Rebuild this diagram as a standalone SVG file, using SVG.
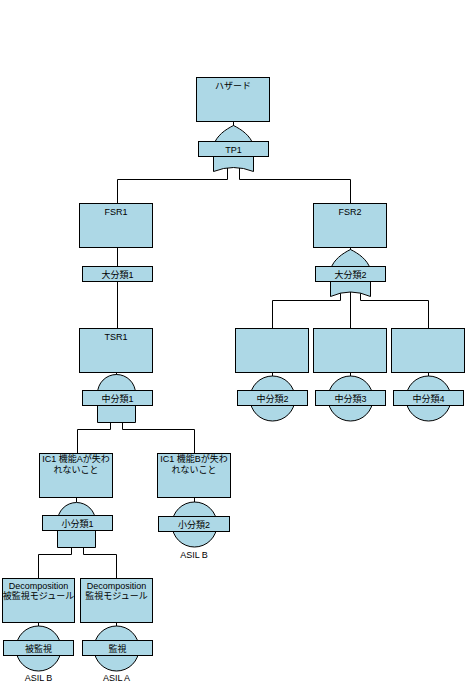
<svg xmlns="http://www.w3.org/2000/svg" width="468" height="683" viewBox="0 0 468 683">
<style>
.b{fill:#ADD8E6;stroke:#000;stroke-width:1}
.c{fill:none;stroke:#000;stroke-width:1}
text{font-family:"Liberation Sans","Noto Sans CJK JP",sans-serif;font-size:9px;fill:#000;text-anchor:middle}
</style>
<rect width="468" height="683" fill="#fff"/>
<g id="connectors">
<path class="c" d="M233.5,121.5V126"/>
<path class="c" d="M227.5,168V179.5H117.5V203.5"/>
<path class="c" d="M239.5,168V179.5H350.5V203.5"/>
<path class="c" d="M117.5,247.5V266.5M117.5,281.5V328.5"/>
<path class="c" d="M350.5,247.5V250"/>
<path class="c" d="M340.5,292V300.5H272.5V328.5"/>
<path class="c" d="M350.5,291V328.5"/>
<path class="c" d="M360.5,292V300.5H428.5V328.5"/>
<path class="c" d="M272.5,372.5V376M350.5,372.5V376M428.5,372.5V376"/>
<path class="c" d="M116.5,372.5V375"/>
<path class="c" d="M110.5,422V429.5H77.5V453.5"/>
<path class="c" d="M122.5,422V429.5H194.5V453.5"/>
<path class="c" d="M76.5,497.5V502"/>
<path class="c" d="M194.5,497.5V502"/>
<path class="c" d="M71.5,547V554.5H38.5V578.5"/>
<path class="c" d="M83.5,547V554.5H116.5V578.5"/>
<path class="c" d="M38.5,622.5V626M116.5,622.5V626"/>
</g>
<g id="hazard">
<rect class="b" x="196.5" y="77.5" width="73" height="44"/>
<text x="233" y="89">ハザード</text>
</g>
<g id="TP1">
<path class="b" d="M233.5,125.5C225.5,129.5 216.5,135.5 213.5,145.5L213.5,171.5Q233.5,163.5 253.5,171.5L253.5,145.5C250.5,135.5 241.5,129.5 233.5,125.5Z"/>
<rect class="b" x="198.5" y="141.5" width="70" height="15"/>
<text x="233.5" y="152.5">TP1</text>
</g>
<g id="FSR1">
<rect class="b" x="79.5" y="203.5" width="73" height="44"/>
<text x="116" y="215">FSR1</text>
</g>
<g id="dai1">
<rect class="b" x="82.5" y="266.5" width="70" height="15"/>
<text x="117.5" y="277.5">大分類1</text>
</g>
<g id="FSR2">
<rect class="b" x="313.5" y="203.5" width="73" height="44"/>
<text x="350" y="215">FSR2</text>
</g>
<g id="dai2">
<path class="b" d="M350.5,249.5C342.5,253.5 333.5,259.5 330.5,269.5L330.5,296.5Q350.5,287.5 370.5,296.5L370.5,269.5C367.5,259.5 358.5,253.5 350.5,249.5Z"/>
<rect class="b" x="315.5" y="266.5" width="70" height="15"/>
<text x="350.5" y="277.5">大分類2</text>
</g>
<g id="TSR1">
<rect class="b" x="79.5" y="328.5" width="73" height="44"/>
<text x="116" y="340">TSR1</text>
</g>
<g id="chu1">
<path class="b" d="M97.5,422.5V393.5A19,19 0 0 1 135.5,393.5V422.5Z"/>
<rect class="b" x="82.5" y="390.5" width="70" height="15"/>
<text x="117.5" y="401.5">中分類1</text>
</g>
<g id="box2">
<rect class="b" x="235.5" y="328.5" width="73" height="44"/>
</g>
<g id="chu2">
<circle class="b" cx="272.5" cy="398.5" r="22.5"/>
<rect class="b" x="237.5" y="390.5" width="70" height="15"/>
<text x="272.5" y="401.5">中分類2</text>
</g>
<g id="box3">
<rect class="b" x="313.5" y="328.5" width="73" height="44"/>
</g>
<g id="chu3">
<circle class="b" cx="350.5" cy="398.5" r="22.5"/>
<rect class="b" x="315.5" y="390.5" width="70" height="15"/>
<text x="350.5" y="401.5">中分類3</text>
</g>
<g id="box4">
<rect class="b" x="391.5" y="328.5" width="73" height="44"/>
</g>
<g id="chu4">
<circle class="b" cx="428.5" cy="398.5" r="22.5"/>
<rect class="b" x="393.5" y="390.5" width="70" height="15"/>
<text x="428.5" y="401.5">中分類4</text>
</g>
<g id="IC1A">
<rect class="b" x="39.5" y="453.5" width="73" height="44"/>
<text x="76" y="461.5">IC1 機能Aが失わ</text>
<text x="76" y="473">れないこと</text>
</g>
<g id="sho1">
<path class="b" d="M57.5,547.5V521.5A19,19 0 0 1 95.5,521.5V547.5Z"/>
<rect class="b" x="42.5" y="515.5" width="70" height="15"/>
<text x="77.5" y="526.5">小分類1</text>
</g>
<g id="IC1B">
<rect class="b" x="157.5" y="453.5" width="73" height="44"/>
<text x="194" y="461.5">IC1 機能Bが失わ</text>
<text x="194" y="473">れないこと</text>
</g>
<g id="sho2">
<circle class="b" cx="194.5" cy="524.5" r="22.5"/>
<rect class="b" x="158.5" y="516.5" width="71" height="15"/>
<text x="194" y="527.5">小分類2</text>
<text x="194" y="557.5">ASIL B</text>
</g>
<g id="DecA">
<rect class="b" x="2.5" y="578.5" width="72" height="44"/>
<text x="38.5" y="588.5">Decomposition</text>
<text x="38.5" y="599">被監視モジュール</text>
</g>
<g id="hikanshi">
<circle class="b" cx="38.5" cy="648.5" r="22.5"/>
<rect class="b" x="3.5" y="640.5" width="70" height="15"/>
<text x="38.5" y="651.5">被監視</text>
<text x="38.5" y="681">ASIL B</text>
</g>
<g id="DecB">
<rect class="b" x="80.5" y="578.5" width="72" height="44"/>
<text x="116.5" y="588.5">Decomposition</text>
<text x="116.5" y="599">監視モジュール</text>
</g>
<g id="kanshi">
<circle class="b" cx="116.5" cy="648.5" r="22.5"/>
<rect class="b" x="82.5" y="640.5" width="70" height="15"/>
<text x="117.5" y="651.5">監視</text>
<text x="116.5" y="681">ASIL A</text>
</g>
</svg>
